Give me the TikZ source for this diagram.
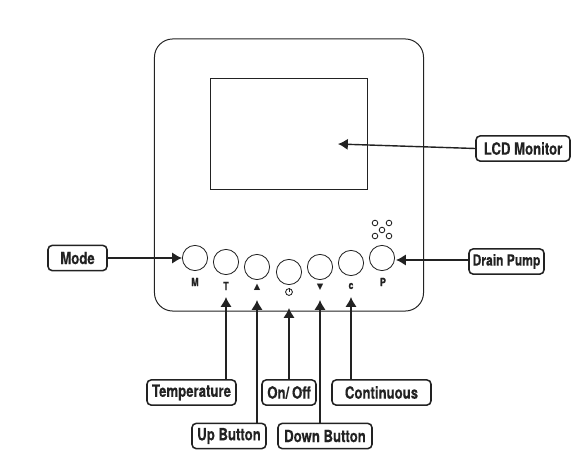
\documentclass[tikz,border=0pt]{standalone}
\usepackage{fontspec}
\setmainfont[FakeStretch=0.78,BoldFeatures={FakeBold=0.25}]{TeX Gyre Heros}
\newfontfamily\symfont{DejaVu Sans}
\usetikzlibrary{arrows.meta}
\definecolor{inkdark}{HTML}{222222}
\begin{document}
\begin{tikzpicture}[
  x=0.025cm, y=-0.025cm,
  box/.style={rectangle, draw=inkdark, line width=1.1pt, rounded corners=3pt, inner sep=0pt,
    minimum height=#1, align=center, font=\fontsize{12}{13}\selectfont\bfseries, text=inkdark},
  box/.default=0.63cm,
  knob/.style={circle, draw=inkdark, line width=0.6pt, minimum size=0.63cm, inner sep=0pt},
  hole/.style={circle, draw=inkdark, line width=0.6pt, minimum size=0.14cm, inner sep=0pt},
  tag/.style={font=\fontsize{8}{9}\selectfont\bfseries, text=inkdark, inner sep=0pt},
  pointer/.style={draw=inkdark, line width=1pt, -{Latex[length=7pt,width=8pt]}}
]
\useasboundingbox (0,0) rectangle (574,468);
% panel and screen
\node[draw=inkdark, line width=0.7pt, rounded corners=13pt, minimum width=6.725cm, minimum height=6.8cm, inner sep=0pt] (panel) at (289,175) {};
\node[draw=inkdark, line width=0.7pt, minimum width=3.925cm, minimum height=2.75cm, inner sep=0pt] (screen) at (289,134) {};
% buttons
\node[knob] (btnM) at (195,258) {};
\node[knob] (btnT) at (226,262) {};
\node[knob] (btnUp) at (257,267) {};
\node[knob] (btnPower) at (289,272) {};
\node[knob] (btnDown) at (320,267) {};
\node[knob] (btnC) at (351,263) {};
\node[knob] (btnP) at (382,258) {};
% button marks
\node[tag] (tagM) at (195,282) {M};
\node[tag] (tagT) at (226,286) {T};
\node[tag, font=\fontsize{6}{7}\symfont] (tagUp) at (257,287) {▲};
\node[hole, minimum size=0.17cm] (tagPower) at (289,292) {};
\draw[inkdark, line width=0.5pt] (tagPower.center) -- (tagPower.north);
\node[tag, font=\fontsize{6}{7}\symfont] (tagDown) at (320,287) {▼};
\node[tag] (tagC) at (351,286) {c};
\node[tag] (tagP) at (383,282) {P};
% drain holes
\node[hole] (holeA) at (375,223) {};
\node[hole] (holeB) at (389,223) {};
\node[hole] (holeC) at (382,230) {};
\node[hole] (holeD) at (375,236) {};
\node[hole] (holeE) at (389,236) {};
% labels
\node[box, minimum width=1.475cm] (mode) at (77.5,258) {Mode};
\node[box, minimum width=2.35cm] (lcd) at (523,148.5) {LCD Monitor};
\node[box, minimum width=1.875cm, font=\fontsize{11}{12}\selectfont\bfseries] (drain) at (506.5,261.5) {Drain Pump};
\node[box, minimum width=2.225cm] (temperature) at (191.5,392.5) {Temperature};
\node[box, minimum width=1.35cm] (onoff) at (289,392.5) {On/\,Off};
\node[box, minimum width=2.475cm] (continuous) at (381.5,392.5) {Continuous};
\node[box, minimum width=1.85cm] (upbutton) at (229,436) {Up Button};
\node[box, minimum width=2.35cm] (downbutton) at (325,436) {Down Button};
% arrow ends
\coordinate (tipLcd) at (338,144);
\coordinate (tipP) at (396,260);
\coordinate (tipT) at (226,297);
\coordinate (tipUp) at (257,300);
\coordinate (tipPower) at (289,308);
\coordinate (tipDown) at (320,300);
\coordinate (tipC) at (351,297);
% arrows
\draw[pointer] (mode) -- (btnM);
\draw[pointer] (lcd.west) -- (tipLcd);
\draw[pointer] (drain.west |- tipP) -- (tipP);
\draw[pointer] (temperature.north -| tipT) -- (tipT);
\draw[pointer] (upbutton.north -| tipUp) -- (tipUp);
\draw[pointer] (onoff.north) -- (tipPower);
\draw[pointer] (downbutton.north -| tipDown) -- (tipDown);
\draw[pointer] (continuous.north -| tipC) -- (tipC);
\end{tikzpicture}
\end{document}
